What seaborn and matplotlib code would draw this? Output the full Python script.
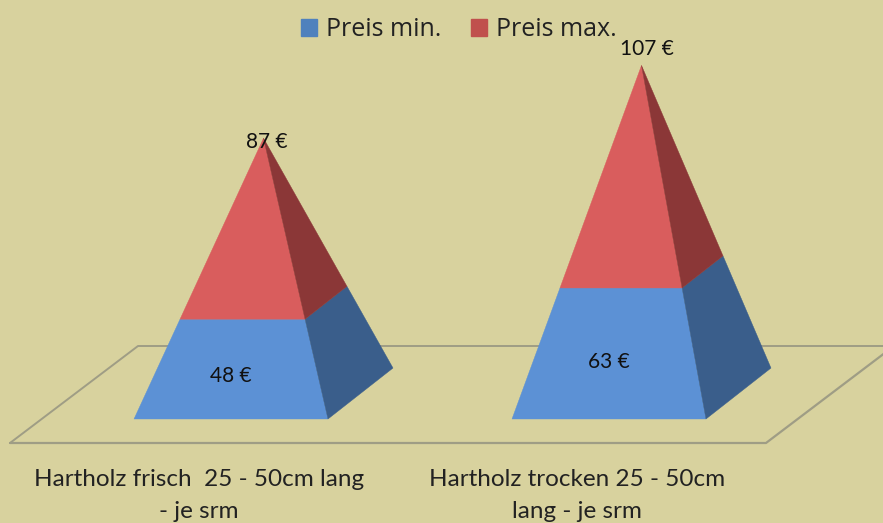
import matplotlib
matplotlib.use("Agg")
import matplotlib.pyplot as plt
import numpy as np
import seaborn as sns
from matplotlib.patches import Patch, Polygon

# values
categories = ["Hartholz frisch  25 - 50cm lang\n- je srm", "Hartholz trocken 25 - 50cm\nlang - je srm"]
series_names = ["Preis min.", "Preis max."]
preis_min = [48, 63]
preis_max = [87, 107]

BG = "#D8D29E"
FRONT = ["#5C91D5", "#D95D5D"]
SIDE = ["#3A5E8B", "#8B3737"]
LEGEND = ["#4F81BD", "#C0504D"]

# one category = 378 px, one euro = 2.08 px
HALF_W = 0.2566
DEPTH_X = 0.172
DEPTH_Y = 24.5
TOP_GAP = [-2, 8]
LABEL_DX = [0.01, 0.015]


def lerp(a, b, t):
    return a + (np.array(b) - np.array(a)) * t


def draw_pyramid(ax, pos, low, high):
    total = low + high
    apex = np.array([pos + DEPTH_X / 2, total])
    fl = np.array([pos - HALF_W, 0])
    fr = np.array([pos + HALF_W, 0])
    br = fr + np.array([DEPTH_X, DEPTH_Y])
    t = low / total
    ml, mr, mb = lerp(fl, apex, t), lerp(fr, apex, t), lerp(br, apex, t)

    ax.add_patch(Polygon([fl, fr, mr, ml], fc=FRONT[0], ec=FRONT[0], lw=0.3, zorder=3))
    ax.add_patch(Polygon([fr, br, mb, mr], fc=SIDE[0], ec=SIDE[0], lw=0.3, zorder=3))
    ax.add_patch(Polygon([ml, mr, apex], fc=FRONT[1], ec=FRONT[1], lw=0.3, zorder=3))
    ax.add_patch(Polygon([mr, mb, apex], fc=SIDE[1], ec=SIDE[1], lw=0.3, zorder=3))


sns.set_theme(style="white", rc={"figure.facecolor": BG, "axes.facecolor": BG})
plt.rcParams["font.family"] = ["Lato", "DejaVu Sans"]

fig = plt.figure(figsize=(8.83, 5.23), dpi=100)
ax = fig.add_axes([0, 0, 1, 1])
ax.set_xlim(-231 / 378, 652 / 378)
ax.set_ylim(-104 / 2.08, 419 / 2.08)
ax.set_axis_off()

# floor of the 3d chart
floor_front = -24 / 2.08
floor_back = 73 / 2.08
ax.plot([-221 / 378, 535 / 378, 663 / 378], [floor_front, floor_front, floor_back], color="#9F9D85", lw=1.6, zorder=1)
ax.plot([-221 / 378, -93 / 378, 663 / 378], [floor_front, floor_back, floor_back], color="#9F9D85", lw=1.4, zorder=1)

for i, cat in enumerate(categories):
    draw_pyramid(ax, i, preis_min[i], preis_max[i])
    total = preis_min[i] + preis_max[i]
    ax.text(i - 0.001, preis_min[i] * 0.45 - 1, f"{preis_min[i]} €", ha="center", va="center",
            fontsize=15, color="#111111", zorder=4)
    ax.text(i + DEPTH_X / 2 + LABEL_DX[i], total + TOP_GAP[i], f"{preis_max[i]} €", ha="center", va="center",
            fontsize=15, color="#111111", zorder=4)
    ax.text(i - 0.084, -24, cat, ha="center", va="top", fontsize=17.5, color="#222222",
            linespacing=1.68, zorder=4)

handles = [Patch(fc=c, ec=c) for c in LEGEND]
ax.legend(handles, series_names, loc="upper center", bbox_to_anchor=(0.52, 1.01), ncol=2, frameon=False,
          handlelength=0.64, handleheight=0.64, handletextpad=0.36, columnspacing=1.2,
          prop={"family": ["Open Sans", "DejaVu Sans"], "size": 18}, labelcolor="#222222")

fig.savefig("out.png", dpi=100, facecolor=BG)
